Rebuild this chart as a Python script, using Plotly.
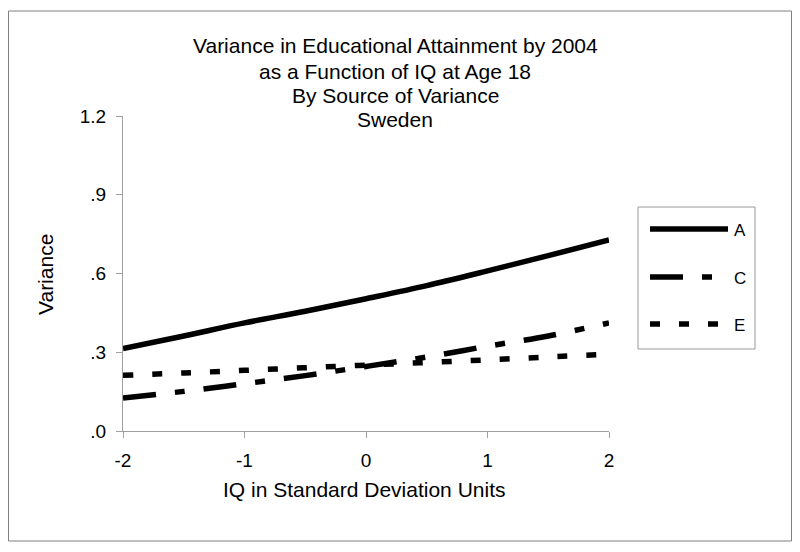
import plotly.graph_objects as go

x_vals = [-2, -1.5, -1, -0.5, 0, 0.5, 1, 1.5, 2]
a_vals = [0.314, 0.362, 0.412, 0.456, 0.504, 0.554, 0.610, 0.668, 0.728]
c_vals = [0.126, 0.151, 0.180, 0.211, 0.246, 0.282, 0.323, 0.362, 0.412]
e_vals = [0.212, 0.221, 0.231, 0.241, 0.251, 0.261, 0.271, 0.282, 0.293]
series_names = ["A", "C", "E"]
y_ticks = [0, 0.3, 0.6, 0.9, 1.2]
y_tick_labels = [".0", ".3", ".6", ".9", "1.2"]
x_ticks = [-2, -1, 0, 1, 2]
x_tick_labels = ["-2", "-1", "0", "1", "2"]
title_lines = ["Variance in Educational Attainment by 2004",
               "as a Function of IQ at Age 18",
               "By Source of Variance",
               "Sweden"]

FONT = "Liberation Sans, Arial, sans-serif"
# page has an 8px body margin; figure coordinates = page - 8
W, H = 784, 536
L, R, T, B = 115, 601, 108, 423

dashes = ["solid", "33px,19px,10px,19px", "10px,19px"]
series = [a_vals, c_vals, e_vals]

fig = go.Figure()
for name, vals, d in zip(series_names, series, dashes):
    fig.add_trace(go.Scatter(x=x_vals, y=vals, mode="lines", name=name,
                             line=dict(color="black", width=5.5, dash=d, shape="spline"),
                             showlegend=False))

def px_x(p):
    return (p - L) / (R - L)

def px_y(p):
    return (B - p) / (B - T)

shapes = []
shapes.append(dict(type="rect", xref="paper", yref="paper",
                   x0=px_x(0.5), x1=px_x(783.5), y0=px_y(533), y1=px_y(3),
                   line=dict(color="#808080", width=1)))
shapes.append(dict(type="rect", xref="paper", yref="paper",
                   x0=px_x(630), x1=px_x(747), y0=px_y(341), y1=px_y(199),
                   line=dict(color="#999999", width=1)))
annotations = []
leg_rows = [221, 269, 316]
for name, d, yy in zip(series_names, dashes, leg_rows):
    shapes.append(dict(type="line", xref="paper", yref="paper",
                       x0=px_x(642), x1=px_x(720), y0=px_y(yy), y1=px_y(yy),
                       line=dict(color="black", width=5.5, dash=d)))
    annotations.append(dict(xref="paper", yref="paper", x=px_x(724), y=px_y(yy + 1),
                            text=name, showarrow=False, xanchor="left", yanchor="middle",
                            font=dict(family=FONT, size=17, color="black")))

title_y = [38, 63, 87, 112]
for txt, yy in zip(title_lines, title_y):
    annotations.append(dict(xref="paper", yref="paper", x=px_x(387), y=px_y(yy),
                            text=txt, showarrow=False, xanchor="center", yanchor="middle",
                            font=dict(family=FONT, size=21, color="black")))
annotations.append(dict(xref="paper", yref="paper", x=px_x(356), y=px_y(481),
                        text="IQ in Standard Deviation Units", showarrow=False,
                        xanchor="center", yanchor="middle",
                        font=dict(family=FONT, size=21, color="black")))
annotations.append(dict(xref="paper", yref="paper", x=px_x(37), y=px_y(267),
                        text="Variance", showarrow=False, textangle=-90,
                        xanchor="center", yanchor="middle",
                        font=dict(family=FONT, size=21, color="black")))

fig.update_layout(
    width=W, height=H,
    margin=dict(l=L, r=W - R, t=T, b=H - B),
    paper_bgcolor="white", plot_bgcolor="white",
    shapes=shapes, annotations=annotations,
    showlegend=False,
)
fig.update_xaxes(range=[-2, 2], tickvals=x_ticks, ticktext=x_tick_labels,
                 showgrid=False, zeroline=False, showline=True, linecolor="#a0a0a0", linewidth=1,
                 ticks="outside", ticklen=6, tickcolor="#a0a0a0", ticklabelstandoff=6,
                 tickfont=dict(family=FONT, size=19, color="black"))
fig.update_yaxes(range=[0, 1.2], tickvals=y_ticks, ticktext=y_tick_labels,
                 showgrid=False, zeroline=False, showline=True, linecolor="#a0a0a0", linewidth=1,
                 ticks="outside", ticklen=6, tickcolor="#a0a0a0", ticklabelstandoff=6,
                 tickfont=dict(family=FONT, size=19, color="black"))

fig.write_html("out.html")
